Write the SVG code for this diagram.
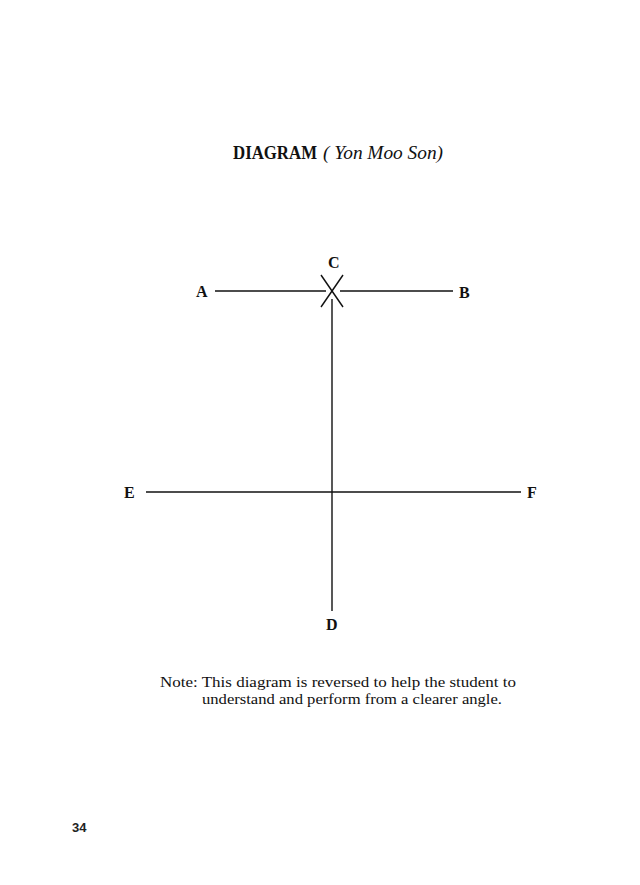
<svg xmlns="http://www.w3.org/2000/svg" width="640" height="885" viewBox="0 0 640 885">
<style>
.ln{stroke:#111;stroke-width:1.4;fill:none}
.lbl{font-family:"Liberation Serif","DejaVu Serif",serif;font-weight:bold;font-size:16px;fill:#111}
.note{font-family:"Liberation Serif","DejaVu Serif",serif;font-size:15px;fill:#111}
</style>
<rect width="640" height="885" fill="#fff"/>
<g id="title">
<text x="233" y="159" font-family="'Liberation Serif',serif" font-weight="bold" font-size="18" fill="#111" textLength="84" lengthAdjust="spacingAndGlyphs">DIAGRAM</text>
<text x="323" y="159" font-family="'Liberation Serif',serif" font-style="italic" font-size="18" fill="#111" textLength="120" lengthAdjust="spacingAndGlyphs">( Yon Moo Son)</text>
</g>
<g id="connectors">
<line class="ln" x1="215" y1="291" x2="326" y2="291"/>
<line class="ln" x1="340" y1="291" x2="453" y2="291"/>
<line class="ln" x1="321" y1="275" x2="343" y2="307"/>
<line class="ln" x1="343" y1="275" x2="321" y2="307"/>
<line class="ln" x1="332" y1="299" x2="332" y2="611"/>
<line class="ln" x1="146" y1="492" x2="521" y2="492"/>
</g>
<g id="node-A"><text class="lbl" x="196" y="297">A</text></g>
<g id="node-B"><text class="lbl" x="459" y="298">B</text></g>
<g id="node-C"><text class="lbl" x="328" y="268">C</text></g>
<g id="node-D"><text class="lbl" x="326" y="630">D</text></g>
<g id="node-E"><text class="lbl" x="124" y="498">E</text></g>
<g id="node-F"><text class="lbl" x="527" y="498">F</text></g>
<g id="note">
<text class="note" x="160" y="687" textLength="356" lengthAdjust="spacingAndGlyphs">Note:  This diagram is reversed to help the student to</text>
<text class="note" x="202" y="704" textLength="300" lengthAdjust="spacingAndGlyphs">understand and perform from a clearer angle.</text>
</g>
<text x="72" y="832" font-family="'Liberation Sans',Arial,sans-serif" font-weight="bold" font-size="13" fill="#222">34</text>
</svg>
